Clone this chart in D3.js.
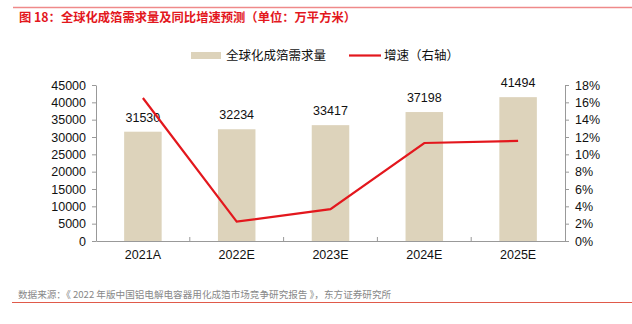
<!DOCTYPE html>
<html><head><meta charset="utf-8">
<script src="https://cdn.jsdelivr.net/npm/d3@7"></script>
<style>body{margin:0;background:#fff;}svg{display:block;font-family:"Liberation Sans","Noto Sans CJK SC",sans-serif;}</style>
</head><body>
<svg id="c" width="632" height="324"></svg>
<script>
const categories = ["2021A","2022E","2023E","2024E","2025E"];
const demand = [31530,32234,33417,37198,41494];
const growth = [16.5,2.23,3.67,11.31,11.55];
const leftTicks = [0,5000,10000,15000,20000,25000,30000,35000,40000,45000];
const rightTicks = [0,2,4,6,8,10,12,14,16,18];
const title = "图 18：全球化成箔需求量及同比增速预测（单位：万平方米）";
const source = "数据来源：《 2022 年版中国铝电解电容器用化成箔市场竞争研究报告 》，东方证券研究所";
const legendNames = ["全球化成箔需求量","增速（右轴）"];

const svg = d3.select("#c");
const L=96, R=565, T=85, B=241;
const x = d3.scaleBand().domain(categories).range([L,R]);
const yL = d3.scaleLinear().domain([0,45000]).range([B,T]);
const yR = d3.scaleLinear().domain([0,18]).range([B,T]);
const cjk = '"Noto Sans CJK SC",sans-serif';

svg.append("line").attr("x1",13).attr("x2",632).attr("y1",7.5).attr("y2",7.5).attr("stroke","#ef8a8a").attr("stroke-width",1.5);
svg.append("text").attr("x",19).attr("y",22).attr("fill","#e3171d").attr("font-size",12.3).attr("font-weight","bold").style("font-family",cjk).text(title);

// bars
svg.selectAll("rect.bar").data(demand).join("rect").attr("class","bar")
  .attr("x",(d,i)=>x(categories[i])+x.bandwidth()*0.3).attr("width",x.bandwidth()*0.4)
  .attr("y",d=>yL(d)).attr("height",d=>B-yL(d)).attr("fill","#ddd3bb");

// axes
const gl = svg.append("g").attr("transform",`translate(${L},0)`).call(d3.axisLeft(yL).tickValues(leftTicks).tickSize(4).tickSizeOuter(0).tickFormat(d3.format("d")));
const gr = svg.append("g").attr("transform",`translate(${R},0)`).call(d3.axisRight(yR).tickValues(rightTicks).tickSize(4).tickSizeOuter(0).tickFormat(d=>d+"%"));
const gx = svg.append("g").attr("transform",`translate(0,${B})`).call(d3.axisBottom(x).tickSize(0));
[gl,gr,gx].forEach(g=>{g.selectAll("path,line").attr("stroke","#999");g.selectAll("text").attr("fill","#111").attr("font-size",12.5).style("font-family","Liberation Sans");});
gl.selectAll("text").attr("x",-10);
gr.selectAll("text").attr("x",10);
gx.selectAll("text").attr("dy","1.2em");
// boundary ticks on x axis
gx.selectAll("line.bt").data(categories.slice(1)).join("line").attr("class","bt")
  .attr("x1",d=>x(d)).attr("x2",d=>x(d)).attr("y1",0).attr("y2",-4).attr("stroke","#999");

// labels
svg.selectAll("text.lab").data(demand).join("text").attr("class","lab")
  .attr("x",(d,i)=>x(categories[i])+x.bandwidth()/2).attr("y",d=>yL(d)-10)
  .attr("text-anchor","middle").attr("font-size",12.5).attr("fill","#111").text(d=>d);

// line
const line = d3.line().x((d,i)=>x(categories[i])+x.bandwidth()/2).y(d=>yR(d));
svg.append("path").datum(growth).attr("d",line).attr("fill","none").attr("stroke","#e3171d").attr("stroke-width",2.2);

// legend
svg.append("rect").attr("x",191).attr("y",52).attr("width",30).attr("height",7).attr("fill","#ddd3bb");
svg.append("text").attr("x",226).attr("y",60).attr("font-size",12.5).attr("fill","#111").style("font-family",cjk).text(legendNames[0]);
svg.append("line").attr("x1",349).attr("x2",381).attr("y1",55.5).attr("y2",55.5).attr("stroke","#e3171d").attr("stroke-width",2.2);
svg.append("text").attr("x",384).attr("y",60).attr("font-size",12.5).attr("fill","#111").style("font-family",cjk).text(legendNames[1]);

// source
svg.append("text").attr("x",18).attr("y",298).attr("font-size",9.6).attr("fill","#888").style("font-family",cjk).text(source);
svg.append("line").attr("x1",12).attr("x2",632).attr("y1",302.5).attr("y2",302.5).attr("stroke","#e05a4a").attr("stroke-width",1);
</script>
</body></html>
